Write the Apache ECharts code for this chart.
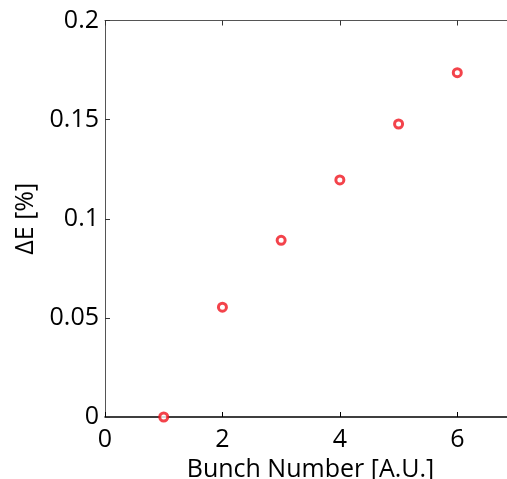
<!DOCTYPE html>
<html>
<head>
<meta charset="utf-8">
<script src="https://cdn.jsdelivr.net/npm/echarts@6/dist/echarts.min.js"></script>
<style>html,body{margin:0;padding:0;background:#fff;}#c{width:507px;height:479px;}</style>
</head>
<body>
<div id="c"></div>
<script>
var bunchNumbers = [1, 2, 3, 4, 5, 6];
var deltaE = [0, 0.0554, 0.0891, 0.1196, 0.1478, 0.1737];
var xTitle = 'Bunch Number [A.U.]';
var yTitle = '\u0394E [%]';

var points = bunchNumbers.map(function (x, i) { return [x, deltaE[i]]; });
var font = 'Open Sans';
var chart = echarts.init(document.getElementById('c'), null, {renderer: 'canvas'});
chart.setOption({
  animation: false,
  backgroundColor: '#fff',
  grid: {left: 105, right: -9, top: 20.5, bottom: 62, containLabel: false, outerBoundsMode: 'none'},
  xAxis: [{
    type: 'value', min: 0, max: 7, interval: 2, position: 'bottom',
    name: xTitle, nameLocation: 'middle', nameGap: 39,
    nameTextStyle: {fontFamily: font, fontSize: 25, color: '#000'},
    axisLine: {show: true, onZero: false, lineStyle: {color: '#000', width: 1.5}},
    axisTick: {show: true, inside: true, length: 5, lineStyle: {color: '#000'}},
    axisLabel: {fontFamily: font, fontSize: 25, color: '#000', margin: 10, showMaxLabel: false},
    splitLine: {show: false}
  }, {
    type: 'value', min: 0, max: 7, interval: 2, position: 'top',
    axisLine: {show: true, onZero: false, lineStyle: {color: '#555', width: 1}},
    axisTick: {show: true, inside: true, length: 5, lineStyle: {color: '#333'}},
    axisLabel: {show: false},
    splitLine: {show: false}
  }],
  yAxis: [{
    type: 'value', min: 0, max: 0.2, interval: 0.05,
    name: yTitle, nameLocation: 'middle', nameGap: 66,
    nameTextStyle: {fontFamily: font, fontSize: 25, color: '#000'},
    axisLine: {show: true, onZero: false, lineStyle: {color: '#555', width: 1}},
    axisTick: {show: true, inside: true, length: 5, lineStyle: {color: '#333'}},
    axisLabel: {fontFamily: font, fontSize: 25, color: '#000', margin: 6},
    splitLine: {show: false}
  }],
  series: [{
    type: 'scatter',
    xAxisIndex: 0,
    data: points,
    symbol: 'circle',
    symbolSize: 8,
    clip: false,
    itemStyle: {color: '#fff', borderColor: '#f0141e', borderWidth: 3}
  }]
});
</script>
</body>
</html>
